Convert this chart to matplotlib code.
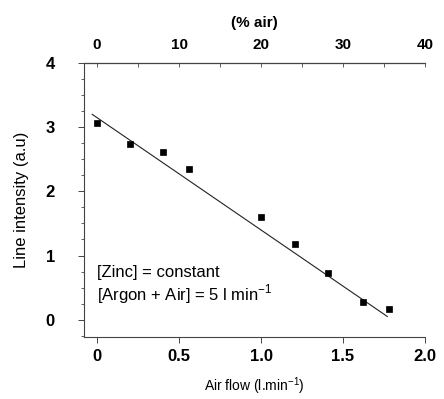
import numpy as np
import matplotlib
matplotlib.use("Agg")
import matplotlib.pyplot as plt
from matplotlib.ticker import MultipleLocator

plt.rcParams['font.family'] = ['Liberation Sans', 'DejaVu Sans']
plt.rcParams['ytick.major.pad'] = 17
plt.rcParams['xtick.major.pad'] = 4.5

# measured points
air_flow = [0.0, 0.2, 0.4, 0.56, 1.0, 1.21, 1.41, 1.62, 1.78]
intensity = [3.07, 2.74, 2.62, 2.35, 1.60, 1.18, 0.72, 0.28, 0.16]

# fitted line end points
fit_x = [-0.03, 1.77]
fit_y = [3.20, 0.05]

fig = plt.figure(figsize=(4.44, 3.99), dpi=100)
ax = fig.add_axes([84 / 444, 1 - 337 / 399, (425 - 84) / 444, (337 - 63) / 399])

ax.plot(fit_x, fit_y, color='#222222', lw=0.8)
ax.plot(air_flow, intensity, 's', color='black', markersize=5, mew=0.5)

ax.set_xlim(-0.08, 2.0)
ax.set_ylim(-0.27, 4.0)
ax.set_xticks([0, 0.5, 1.0, 1.5, 2.0])
ax.set_xticklabels(['0', '0.5', '1.0', '1.5', '2.0'])
ax.set_yticks([0, 1, 2, 3, 4])
ax.yaxis.set_minor_locator(MultipleLocator(0.25))

for s in ax.spines.values():
    s.set_color('#444444')
    s.set_linewidth(0.8)
ax.spines['right'].set_visible(False)

ax.tick_params(axis='both', which='major', labelsize=12, length=4, width=0.7, color='#444444')
ax.tick_params(axis='y', which='major', pad=17)
ax.tick_params(axis='y', which='minor', length=2.5, width=0.6, color='#444444')
for lab in ax.get_xticklabels() + ax.get_yticklabels():
    lab.set_fontweight('bold')

ax.set_xlabel('Air flow (l.min$^{\\mathregular{-1}}$)', fontsize=10, labelpad=8)
ax.set_ylabel('Line intensity (a.u)', fontsize=12, labelpad=12)

# top axis in % air
top = ax.secondary_xaxis('top', functions=(lambda f: f * 20, lambda p: p / 20))
top.set_xticks([0, 10, 20, 30, 40])
top.xaxis.set_minor_locator(MultipleLocator(5))
top.tick_params(which='both', direction='in', length=3, width=0.6, labelsize=11, pad=8, color='#444444')
for lab in top.get_xticklabels():
    lab.set_fontweight('bold')
top.set_xlabel('(% air)', fontsize=11, labelpad=8, fontweight='bold')

ax.text(0.0, 0.73, '[Zinc] = constant', fontsize=12, va='center')
ax.text(0.0, 0.39, '[Argon + Air] = 5 l min$^{\\mathregular{-1}}$', fontsize=12, va='center')

fig.savefig('out.png', dpi=100)
